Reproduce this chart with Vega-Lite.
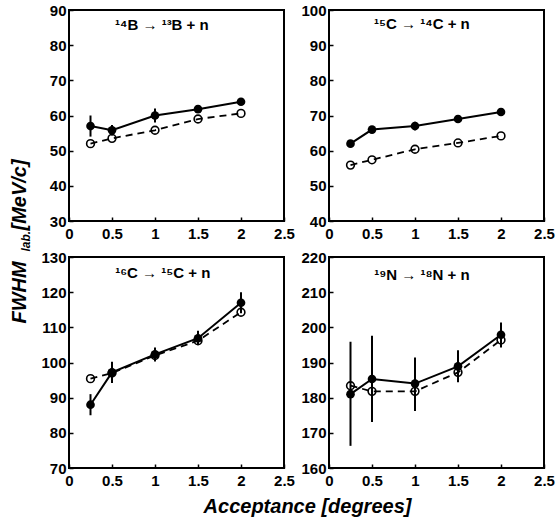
{
  "$schema": "https://vega.github.io/schema/vega-lite/v6.json",
  "padding": {"left": 8, "top": 2, "right": 2, "bottom": 2},
  "bounds": "flush",
  "columns": 2,
  "spacing": {"row": 36, "column": 45},
  "datasets": {
    "pts": [
      {"p": "B", "k": "f", "x": 0.25, "y": 57.0, "lo": 54.0, "hi": 60.0},
      {"p": "B", "k": "f", "x": 0.5, "y": 55.8, "lo": 54.3, "hi": 57.3},
      {"p": "B", "k": "f", "x": 1.0, "y": 60.0, "lo": 58.0, "hi": 62.0},
      {"p": "B", "k": "f", "x": 1.5, "y": 61.8, "lo": 60.8, "hi": 62.8},
      {"p": "B", "k": "f", "x": 2.0, "y": 63.9, "lo": 63.2, "hi": 64.6},
      {"p": "B", "k": "o", "x": 0.25, "y": 52.0},
      {"p": "B", "k": "o", "x": 0.5, "y": 53.5},
      {"p": "B", "k": "o", "x": 1.0, "y": 55.8},
      {"p": "B", "k": "o", "x": 1.5, "y": 59.0},
      {"p": "B", "k": "o", "x": 2.0, "y": 60.6},
      {"p": "B", "k": "t", "x": 1.08, "y": 85.7, "label": "¹⁴B → ¹³B + n"},
      {"p": "C15", "k": "f", "x": 0.25, "y": 62.0, "lo": 61.0, "hi": 63.0},
      {"p": "C15", "k": "f", "x": 0.5, "y": 66.0, "lo": 65.0, "hi": 67.0},
      {"p": "C15", "k": "f", "x": 1.0, "y": 67.0, "lo": 65.8, "hi": 68.2},
      {"p": "C15", "k": "f", "x": 1.5, "y": 69.0, "lo": 68.0, "hi": 70.0},
      {"p": "C15", "k": "f", "x": 2.0, "y": 71.0, "lo": 70.0, "hi": 72.0},
      {"p": "C15", "k": "o", "x": 0.25, "y": 55.9},
      {"p": "C15", "k": "o", "x": 0.5, "y": 57.4},
      {"p": "C15", "k": "o", "x": 1.0, "y": 60.4},
      {"p": "C15", "k": "o", "x": 1.5, "y": 62.2},
      {"p": "C15", "k": "o", "x": 2.0, "y": 64.2},
      {"p": "C15", "k": "t", "x": 1.08, "y": 96.0, "label": "¹⁵C → ¹⁴C + n"},
      {"p": "C16", "k": "f", "x": 0.25, "y": 88.0, "lo": 85.0, "hi": 91.0},
      {"p": "C16", "k": "f", "x": 0.5, "y": 97.2, "lo": 94.2, "hi": 100.2},
      {"p": "C16", "k": "f", "x": 1.0, "y": 102.3, "lo": 100.3, "hi": 104.3},
      {"p": "C16", "k": "f", "x": 1.5, "y": 106.9, "lo": 104.9, "hi": 109.0},
      {"p": "C16", "k": "f", "x": 2.0, "y": 117.0, "lo": 114.0, "hi": 120.0},
      {"p": "C16", "k": "o", "x": 0.25, "y": 95.4},
      {"p": "C16", "k": "o", "x": 0.5, "y": 97.0},
      {"p": "C16", "k": "o", "x": 1.0, "y": 102.0},
      {"p": "C16", "k": "o", "x": 1.5, "y": 106.2},
      {"p": "C16", "k": "o", "x": 2.0, "y": 114.3},
      {"p": "C16", "k": "t", "x": 1.09, "y": 125.5, "label": "¹⁶C → ¹⁵C + n"},
      {"p": "N", "k": "f", "x": 0.25, "y": 181.0, "lo": 166.3, "hi": 195.9},
      {"p": "N", "k": "f", "x": 0.5, "y": 185.3, "lo": 173.1, "hi": 197.6},
      {"p": "N", "k": "f", "x": 1.0, "y": 184.0, "lo": 176.2, "hi": 191.4},
      {"p": "N", "k": "f", "x": 1.5, "y": 188.9, "lo": 184.4, "hi": 193.5},
      {"p": "N", "k": "f", "x": 2.0, "y": 197.9, "lo": 194.3, "hi": 201.4},
      {"p": "N", "k": "o", "x": 0.25, "y": 183.4},
      {"p": "N", "k": "o", "x": 0.5, "y": 181.8},
      {"p": "N", "k": "o", "x": 1.0, "y": 181.8},
      {"p": "N", "k": "o", "x": 1.5, "y": 187.2},
      {"p": "N", "k": "o", "x": 2.0, "y": 196.4},
      {"p": "N", "k": "t", "x": 1.08, "y": 215.0, "label": "¹⁹N → ¹⁸N + n"}
    ]
  },
  "config": {
    "font": "Liberation Sans",
    "view": {"stroke": "black", "strokeWidth": 2},
    "axis": {
      "domain": false, "grid": false, "ticks": true, "tickSize": -4, "tickColor": "black", "tickWidth": 1.5,
      "labelFont": "Liberation Sans", "labelFontSize": 15, "labelFontWeight": "bold", "labelColor": "black",
      "labelPadding": 9, "labelFlush": false, "labelOverlap": false, "labelBound": false,
      "titleFont": "Liberation Sans", "titleFontWeight": "bold", "titleFontStyle": "italic", "titleFontSize": 20, "titleColor": "black"
    },
    "axisY": {"labelPadding": 7}
  },
  "concat": [
    {
      "width": 215, "height": 211,
      "data": {"name": "pts"},
      "transform": [{"filter": "datum.p == 'B'"}],
      "encoding": {
        "x": {"field": "x", "type": "quantitative", "scale": {"domain": [0, 2.5], "nice": false, "zero": false},
              "axis": {"values": [0, 0.5, 1, 1.5, 2, 2.5], "format": "~g", "title": "lab.", "titleFontSize": 12, "titleAngle": -90, "titleAlign": "left", "titleBaseline": "alphabetic", "titleX": -40, "titleY": 30}},
        "y": {"field": "y", "type": "quantitative", "scale": {"domain": [30, 90], "nice": false, "zero": false},
              "axis": {"values": [30, 40, 50, 60, 70, 80, 90], "title": "[MeV/c]", "titleAngle": -90, "titleAlign": "left", "titleBaseline": "alphabetic", "titleX": -44, "titleY": 220}}
      },
      "layer": [
        {"transform": [{"filter": "datum.k == 'f'"}], "mark": {"type": "line", "color": "black", "strokeWidth": 2}},
        {"transform": [{"filter": "datum.k == 'o'"}], "mark": {"type": "line", "color": "black", "strokeWidth": 1.8, "strokeDash": [7, 5]}},
        {"transform": [{"filter": "datum.k == 'f'"}], "mark": {"type": "rule", "color": "black", "strokeWidth": 2},
         "encoding": {"y": {"field": "lo", "type": "quantitative", "scale": {"domain": [30, 90], "nice": false, "zero": false},
              "axis": {"values": [30, 40, 50, 60, 70, 80, 90], "title": "[MeV/c]", "titleAngle": -90, "titleAlign": "left", "titleBaseline": "alphabetic", "titleX": -44, "titleY": 220}}, "y2": {"field": "hi"}}},
        {"transform": [{"filter": "datum.k == 'o'"}], "mark": {"type": "point", "filled": false, "stroke": "black", "strokeWidth": 1.6, "size": 60, "opacity": 1}},
        {"transform": [{"filter": "datum.k == 'f'"}], "mark": {"type": "circle", "color": "black", "size": 75, "opacity": 1}},
        {"transform": [{"filter": "datum.k == 't'"}], "mark": {"type": "text", "fontSize": 15, "fontWeight": "bold", "color": "black", "font": "Liberation Sans"},
         "encoding": {"text": {"field": "label"}}}
      ]
    },
    {
      "width": 215, "height": 211,
      "data": {"name": "pts"},
      "transform": [{"filter": "datum.p == 'C15'"}],
      "encoding": {
        "x": {"field": "x", "type": "quantitative", "scale": {"domain": [0, 2.5], "nice": false, "zero": false},
              "axis": {"values": [0, 0.5, 1, 1.5, 2, 2.5], "format": "~g", "title": null}},
        "y": {"field": "y", "type": "quantitative", "scale": {"domain": [40, 100], "nice": false, "zero": false},
              "axis": {"values": [40, 50, 60, 70, 80, 90, 100], "title": null}}
      },
      "layer": [
        {"transform": [{"filter": "datum.k == 'f'"}], "mark": {"type": "line", "color": "black", "strokeWidth": 2}},
        {"transform": [{"filter": "datum.k == 'o'"}], "mark": {"type": "line", "color": "black", "strokeWidth": 1.8, "strokeDash": [7, 5]}},
        {"transform": [{"filter": "datum.k == 'f'"}], "mark": {"type": "rule", "color": "black", "strokeWidth": 2},
         "encoding": {"y": {"field": "lo", "type": "quantitative", "scale": {"domain": [40, 100], "nice": false, "zero": false},
              "axis": {"values": [40, 50, 60, 70, 80, 90, 100], "title": null}}, "y2": {"field": "hi"}}},
        {"transform": [{"filter": "datum.k == 'o'"}], "mark": {"type": "point", "filled": false, "stroke": "black", "strokeWidth": 1.6, "size": 60, "opacity": 1}},
        {"transform": [{"filter": "datum.k == 'f'"}], "mark": {"type": "circle", "color": "black", "size": 75, "opacity": 1}},
        {"transform": [{"filter": "datum.k == 't'"}], "mark": {"type": "text", "fontSize": 15, "fontWeight": "bold", "color": "black", "font": "Liberation Sans"},
         "encoding": {"text": {"field": "label"}}}
      ]
    },
    {
      "width": 215, "height": 211,
      "data": {"name": "pts"},
      "transform": [{"filter": "datum.p == 'C16'"}],
      "encoding": {
        "x": {"field": "x", "type": "quantitative", "scale": {"domain": [0, 2.5], "nice": false, "zero": false},
              "axis": {"values": [0, 0.5, 1, 1.5, 2, 2.5], "format": "~g", "title": "Acceptance [degrees]", "titleAlign": "center", "titleBaseline": "alphabetic", "titleAngle": 0, "titleX": 238, "titleY": 44}},
        "y": {"field": "y", "type": "quantitative", "scale": {"domain": [70, 130], "nice": false, "zero": false},
              "axis": {"values": [70, 80, 90, 100, 110, 120, 130], "title": "FWHM", "titleAngle": -90, "titleAlign": "left", "titleBaseline": "alphabetic", "titleX": -44, "titleY": 66}}
      },
      "layer": [
        {"transform": [{"filter": "datum.k == 'f'"}], "mark": {"type": "line", "color": "black", "strokeWidth": 2}},
        {"transform": [{"filter": "datum.k == 'o'"}], "mark": {"type": "line", "color": "black", "strokeWidth": 1.8, "strokeDash": [7, 5]}},
        {"transform": [{"filter": "datum.k == 'f'"}], "mark": {"type": "rule", "color": "black", "strokeWidth": 2},
         "encoding": {"y": {"field": "lo", "type": "quantitative", "scale": {"domain": [70, 130], "nice": false, "zero": false},
              "axis": {"values": [70, 80, 90, 100, 110, 120, 130], "title": "FWHM", "titleAngle": -90, "titleAlign": "left", "titleBaseline": "alphabetic", "titleX": -44, "titleY": 66}}, "y2": {"field": "hi"}}},
        {"transform": [{"filter": "datum.k == 'o'"}], "mark": {"type": "point", "filled": false, "stroke": "black", "strokeWidth": 1.6, "size": 60, "opacity": 1}},
        {"transform": [{"filter": "datum.k == 'f'"}], "mark": {"type": "circle", "color": "black", "size": 75, "opacity": 1}},
        {"transform": [{"filter": "datum.k == 't'"}], "mark": {"type": "text", "fontSize": 15, "fontWeight": "bold", "color": "black", "font": "Liberation Sans"},
         "encoding": {"text": {"field": "label"}}}
      ]
    },
    {
      "width": 215, "height": 211,
      "data": {"name": "pts"},
      "transform": [{"filter": "datum.p == 'N'"}],
      "encoding": {
        "x": {"field": "x", "type": "quantitative", "scale": {"domain": [0, 2.5], "nice": false, "zero": false},
              "axis": {"values": [0, 0.5, 1, 1.5, 2, 2.5], "format": "~g", "title": null}},
        "y": {"field": "y", "type": "quantitative", "scale": {"domain": [160, 220], "nice": false, "zero": false},
              "axis": {"values": [160, 170, 180, 190, 200, 210, 220], "title": null}}
      },
      "layer": [
        {"transform": [{"filter": "datum.k == 'f'"}], "mark": {"type": "line", "color": "black", "strokeWidth": 2}},
        {"transform": [{"filter": "datum.k == 'o'"}], "mark": {"type": "line", "color": "black", "strokeWidth": 1.8, "strokeDash": [7, 5]}},
        {"transform": [{"filter": "datum.k == 'f'"}], "mark": {"type": "rule", "color": "black", "strokeWidth": 2},
         "encoding": {"y": {"field": "lo", "type": "quantitative", "scale": {"domain": [160, 220], "nice": false, "zero": false},
              "axis": {"values": [160, 170, 180, 190, 200, 210, 220], "title": null}}, "y2": {"field": "hi"}}},
        {"transform": [{"filter": "datum.k == 'o'"}], "mark": {"type": "point", "filled": false, "stroke": "black", "strokeWidth": 1.6, "size": 60, "opacity": 1}},
        {"transform": [{"filter": "datum.k == 'f'"}], "mark": {"type": "circle", "color": "black", "size": 75, "opacity": 1}},
        {"transform": [{"filter": "datum.k == 't'"}], "mark": {"type": "text", "fontSize": 15, "fontWeight": "bold", "color": "black", "font": "Liberation Sans"},
         "encoding": {"text": {"field": "label"}}}
      ]
    }
  ]
}
